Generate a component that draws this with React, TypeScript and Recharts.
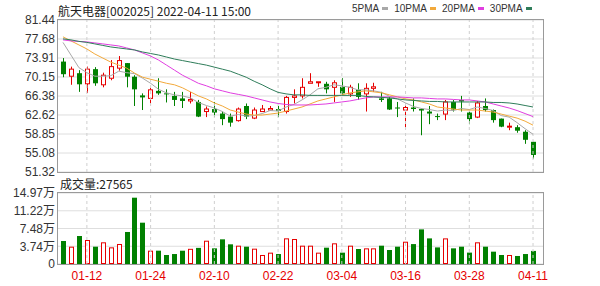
import { ComposedChart, Bar, Line, XAxis, YAxis, CartesianGrid, ReferenceLine } from 'recharts'

const dates = [
  '01-07', '01-10', '01-11', '01-12', '01-13', '01-14', '01-17', '01-18', '01-19', '01-20',
  '01-21', '01-24', '01-25', '01-26', '01-27', '01-28', '02-07', '02-08', '02-09', '02-10',
  '02-11', '02-14', '02-15', '02-16', '02-17', '02-18', '02-21', '02-22', '02-23', '02-24',
  '02-25', '02-28', '03-01', '03-02', '03-03', '03-04', '03-07', '03-08', '03-09', '03-10',
  '03-11', '03-14', '03-15', '03-16', '03-17', '03-18', '03-21', '03-22', '03-23', '03-24',
  '03-25', '03-28', '03-29', '03-30', '03-31', '04-01', '04-06', '04-07', '04-08', '04-11',
]
const tickDates = ['01-12', '01-24', '02-10', '02-22', '03-04', '03-16', '03-28', '04-11']

const opens = [
  73.2, 70.3, 70.9, 68.8, 71.7, 68.6, 69.9, 71.9, 72.9, 70.2,
  66.5, 65.9, 67.4, 66.9, 66.4, 65.9, 65.4, 65.2, 63.3, 63.8,
  62.9, 62.3, 61.5, 64.4, 62.0, 63.3, 63.6, 63.8, 63.3, 66.1,
  66.4, 68.9, 69.2, 68.8, 68.1, 68.2, 66.8, 67.6, 66.8, 67.9,
  65.9, 65.9, 64.1, 63.6, 64.1, 63.8, 63.3, 62.4, 62.8, 65.2,
  65.6, 63.1, 62.2, 64.4, 63.6, 61.9, 60.2, 60.2, 59.3, 57.3,
]
const highs = [
  73.9, 72.2, 71.5, 72.2, 72.1, 71.0, 73.5, 74.3, 72.9, 70.5,
  66.9, 68.0, 69.9, 67.7, 67.2, 67.2, 67.2, 65.6, 64.3, 65.2,
  63.3, 62.9, 64.1, 64.9, 64.1, 64.6, 64.4, 64.4, 66.4, 67.7,
  69.9, 70.9, 69.2, 69.2, 69.5, 69.9, 68.6, 68.9, 68.9, 69.0,
  67.2, 66.2, 65.2, 64.6, 65.9, 63.9, 64.4, 62.9, 65.6, 65.6,
  66.4, 63.3, 65.4, 65.9, 63.7, 61.9, 61.1, 60.6, 59.6, 57.3,
]
const lows = [
  70.1, 68.6, 67.2, 67.0, 68.4, 68.1, 69.5, 71.4, 68.1, 64.4,
  63.6, 64.9, 66.6, 65.1, 64.4, 64.0, 64.9, 62.2, 62.2, 62.2,
  60.6, 60.3, 61.3, 61.8, 61.8, 63.3, 63.5, 62.2, 62.9, 64.9,
  65.9, 68.9, 68.2, 66.9, 65.2, 66.6, 66.2, 65.6, 63.3, 67.2,
  65.2, 63.6, 62.2, 60.2, 63.3, 58.6, 60.8, 61.6, 61.6, 63.3,
  63.3, 60.8, 62.0, 63.3, 61.1, 60.2, 59.6, 59.1, 56.9, 54.0,
]
const closes = [
  70.7, 71.7, 68.7, 71.7, 68.9, 70.5, 72.2, 73.4, 70.2, 67.7,
  66.1, 67.6, 66.9, 66.7, 65.6, 65.4, 65.7, 62.3, 63.8, 63.1,
  61.8, 61.1, 63.8, 62.3, 63.6, 63.8, 63.9, 63.4, 66.1, 66.4,
  68.1, 69.2, 69.2, 67.7, 69.0, 66.9, 68.1, 66.2, 67.9, 68.2,
  65.6, 63.7, 63.9, 64.1, 63.8, 63.5, 62.9, 62.2, 65.2, 63.7,
  65.3, 61.8, 65.0, 63.6, 61.6, 60.3, 60.4, 59.5, 57.7, 54.7,
]
const ma5 = [
  77.0, 74.5, 72.0, 71.0, 70.3, 70.3, 70.4, 71.3, 71.0, 70.8,
  69.9, 68.9, 67.7, 67.0, 66.6, 66.4, 66.0, 65.1, 64.5, 64.0,
  63.3, 62.4, 62.7, 62.4, 62.5, 62.9, 63.5, 63.4, 64.2, 64.7,
  65.6, 66.6, 67.8, 68.1, 68.6, 68.4, 68.1, 67.6, 67.6, 67.4,
  67.1, 66.3, 65.8, 65.0, 64.3, 63.9, 63.7, 63.4, 63.6, 63.5,
  63.9, 63.7, 64.2, 63.9, 63.5, 62.5, 62.2, 61.1, 59.9, 58.8,
]
const ma10 = [
  78.1, 77.3, 76.5, 75.7, 74.7, 73.9, 73.1, 72.5, 71.9, 70.9,
  70.1, 69.7, 69.3, 68.9, 68.6, 68.0, 67.2, 66.4, 65.8, 65.0,
  64.4, 63.6, 63.2, 62.8, 62.6, 62.6, 62.8, 63.0, 63.4, 63.8,
  64.2, 64.8, 65.4, 65.8, 66.2, 66.6, 67.0, 67.2, 67.4, 67.2,
  67.0, 66.6, 66.2, 65.8, 65.6, 65.2, 64.8, 64.2, 64.0, 63.8,
  63.6, 63.6, 63.6, 63.4, 63.2, 62.8, 62.4, 62.0, 61.4, 60.6,
]
const ma20 = [
  77.5, 77.3, 77.2, 77.1, 76.9, 76.7, 76.5, 76.3, 75.9, 75.5,
  74.9, 74.3, 73.5, 72.5, 71.5, 70.5, 69.7, 68.9, 68.4, 67.8,
  67.4, 67.0, 66.7, 66.4, 66.0, 65.6, 65.2, 64.9, 64.7, 64.6,
  64.6, 64.6, 64.7, 64.8, 65.0, 65.2, 65.4, 65.7, 66.0, 66.2,
  66.2, 66.2, 66.2, 66.1, 66.0, 66.0, 65.9, 65.8, 65.8, 65.7,
  65.6, 65.6, 65.4, 65.2, 64.8, 64.4, 64.0, 63.5, 62.9, 62.3,
]
const ma30 = [
  77.7, 77.5, 77.2, 77.0, 76.7, 76.4, 76.1, 75.9, 75.7, 75.5,
  75.1, 74.8, 74.5, 74.1, 73.7, 73.4, 73.1, 72.8, 72.5, 72.1,
  71.7, 71.3, 70.7, 70.1, 69.3, 68.6, 67.8, 67.1, 66.8, 66.6,
  66.6, 66.5, 66.5, 66.5, 66.5, 66.5, 66.5, 66.5, 66.3, 66.2,
  66.1, 66.0, 65.8, 65.6, 65.5, 65.4, 65.3, 65.3, 65.2, 65.2,
  65.2, 65.2, 65.2, 65.2, 65.1, 65.1, 65.0, 64.8, 64.5, 64.2,
]
// volume in 万
const volumes = [
  4.85, 3.65, 5.9, 5.06, 3.65, 4.57, 3.51, 4.22, 6.75, 13.98,
  8.71, 2.81, 2.81, 1.9, 2.1, 2.8, 3.2, 3.4, 4.91, 3.3,
  5.2, 4.15, 3.86, 3.65, 3.23, 1.9, 2.39, 2.1, 5.41, 5.27,
  3.86, 3.86, 2.39, 3.44, 4.36, 2.39, 3.86, 3.16, 3.3, 3.3,
  3.86, 2.95, 3.65, 4.7, 4.2, 7.3, 5.4, 3.5, 5.4, 3.3,
  3.65, 2.4, 4.57, 3.65, 2.6, 1.9, 1.9, 1.69, 2.1, 2.76,
]
const priceTicks = [51.32, 55.08, 58.85, 62.62, 66.38, 70.15, 73.91, 77.68, 81.44]
const volTicks = [0, 3.74, 7.48, 11.22, 14.97]

const UP = '#e60000'
const DOWN = '#008000'
const FONT = '"Liberation Sans", "Noto Sans CJK SC", sans-serif'
const MA_LINES = [
  { key: 'ma5', name: '5PMA', color: '#a8a8a8' },
  { key: 'ma10', name: '10PMA', color: '#f2a93b' },
  { key: 'ma20', name: '20PMA', color: '#e03ee0' },
  { key: 'ma30', name: '30PMA', color: '#2f7d5a' },
]

const data = dates.map((d, i) => ({
  date: d,
  range: [lows[i], highs[i]],
  open: opens[i],
  close: closes[i],
  high: highs[i],
  low: lows[i],
  ma5: ma5[i],
  ma10: ma10[i],
  ma20: ma20[i],
  ma30: ma30[i],
  vol: volumes[i],
}))

function Candle(props: any) {
  const { x, y, width, height, payload } = props
  const { open, close, high, low } = payload
  const span = high - low
  const h = Math.abs(height)
  const py = (p: number) => (span > 0 ? y + ((high - p) / span) * h : y)
  const cx = Math.round(x + width / 2) + 0.5
  const up = close >= open
  const color = up ? UP : DOWN
  const top = py(Math.max(open, close))
  const bot = py(Math.min(open, close))
  const bodyH = Math.max(bot - top, 1)
  if (up) {
    return (
      <g>
        <line x1={cx} x2={cx} y1={y} y2={top} stroke={color} />
        <line x1={cx} x2={cx} y1={top + bodyH} y2={y + h} stroke={color} />
        <rect x={cx - 2} y={top} width={4} height={bodyH} fill="#fff" stroke={color} />
      </g>
    )
  }
  return (
    <g>
      <line x1={cx} x2={cx} y1={y} y2={y + h} stroke={color} />
      <rect x={cx - 2.5} y={top} width={5} height={bodyH} fill={color} />
    </g>
  )
}

function VolBar(props: any) {
  const { x, y, width, height, payload } = props
  const cx = Math.round(x + width / 2) + 0.5
  const up = payload.close >= payload.open
  if (up) {
    return <rect x={cx - 2} y={y + 0.5} width={4} height={Math.max(height - 1, 0)} fill="#fff" stroke={UP} />
  }
  return <rect x={cx - 2.5} y={y} width={5} height={height} fill={DOWN} />
}

const frame = (top: number, height: number): React.CSSProperties => ({
  position: 'absolute',
  left: 57,
  top,
  width: 487,
  height,
  boxSizing: 'border-box',
  border: '1px solid #9a9a9a',
  pointerEvents: 'none',
})

export default function App() {
  const axisTick = { fill: '#333', fontSize: 12, fontFamily: FONT }
  return (
    <div style={{ position: 'absolute', left: 0, top: 0, width: 600, height: 286, background: '#fff', fontFamily: FONT }}>
      <div style={{ position: 'absolute', left: 58, top: 2, fontSize: 12, color: '#222', fontFamily: '"Noto Sans CJK SC", sans-serif' }}>
        航天电器[002025] 2022-04-11 15:00
      </div>
      <div style={{ position: 'absolute', left: 352, top: 3, display: 'flex', alignItems: 'center', fontSize: 10, color: '#333' }}>
        {MA_LINES.map((m) => (
          <span key={m.key} style={{ display: 'flex', alignItems: 'center', marginRight: 6 }}>
            {m.name}
            <span style={{ display: 'inline-block', width: 6, height: 3, marginLeft: 3, background: m.color }} />
          </span>
        ))}
      </div>

      <div style={{ position: 'absolute', left: 0, top: 0 }}>
        <ComposedChart width={600} height={180} data={data} margin={{ top: 20, right: 57, bottom: 8, left: 0 }}>
          <CartesianGrid vertical={false} stroke="#dedede" />
          <XAxis dataKey="date" hide padding={{ left: 1, right: 6 }} />
          <YAxis
            domain={[51.32, 81.44]}
            ticks={priceTicks}
            interval={0}
            allowDataOverflow
            width={58}
            axisLine={false}
            tickLine={false}
            tickSize={0}
            tickMargin={3}
            tick={axisTick}
            tickFormatter={(v: number) => v.toFixed(2)}
          />
          {tickDates.map((d) => (
            <ReferenceLine key={d} x={d} stroke="#cfcfcf" strokeDasharray="3 3" />
          ))}
          <Bar dataKey="range" shape={<Candle />} isAnimationActive={false} />
          {MA_LINES.map((m) => (
            <Line
              key={m.key}
              dataKey={m.key}
              stroke={m.color}
              strokeWidth={1}
              dot={false}
              type="linear"
              isAnimationActive={false}
            />
          ))}
        </ComposedChart>
      </div>
      <div style={frame(19, 154)} />

      <div style={{ position: 'absolute', left: 60, top: 175, fontSize: 12, color: '#222', fontFamily: '"Noto Sans CJK SC", sans-serif' }}>
        成交量:27565
      </div>
      <div style={{ position: 'absolute', left: 0, top: 172 }}>
        <ComposedChart width={600} height={114} data={data} margin={{ top: 21, right: 57, bottom: 0, left: 0 }}>
          <CartesianGrid vertical={false} stroke="#dedede" />
          <XAxis
            dataKey="date"
            ticks={tickDates}
            interval={0}
            height={22}
            padding={{ left: 1, right: 6 }}
            axisLine={false}
            tickLine={false}
            tickSize={0}
            tickMargin={7}
            tick={{ fill: UP, fontSize: 12, fontFamily: FONT }}
          />
          <YAxis
            domain={[0, 14.97]}
            ticks={volTicks}
            interval={0}
            allowDataOverflow
            width={58}
            axisLine={false}
            tickLine={false}
            tickSize={0}
            tickMargin={3}
            tick={axisTick}
            tickFormatter={(v: number) => (v === 0 ? '0' : `${v.toFixed(2)}万`)}
          />
          {tickDates.map((d) => (
            <ReferenceLine key={d} x={d} stroke="#cfcfcf" strokeDasharray="3 3" />
          ))}
          <Bar dataKey="vol" shape={<VolBar />} isAnimationActive={false} />
        </ComposedChart>
      </div>
      <div style={frame(192, 73)} />
    </div>
  )
}
